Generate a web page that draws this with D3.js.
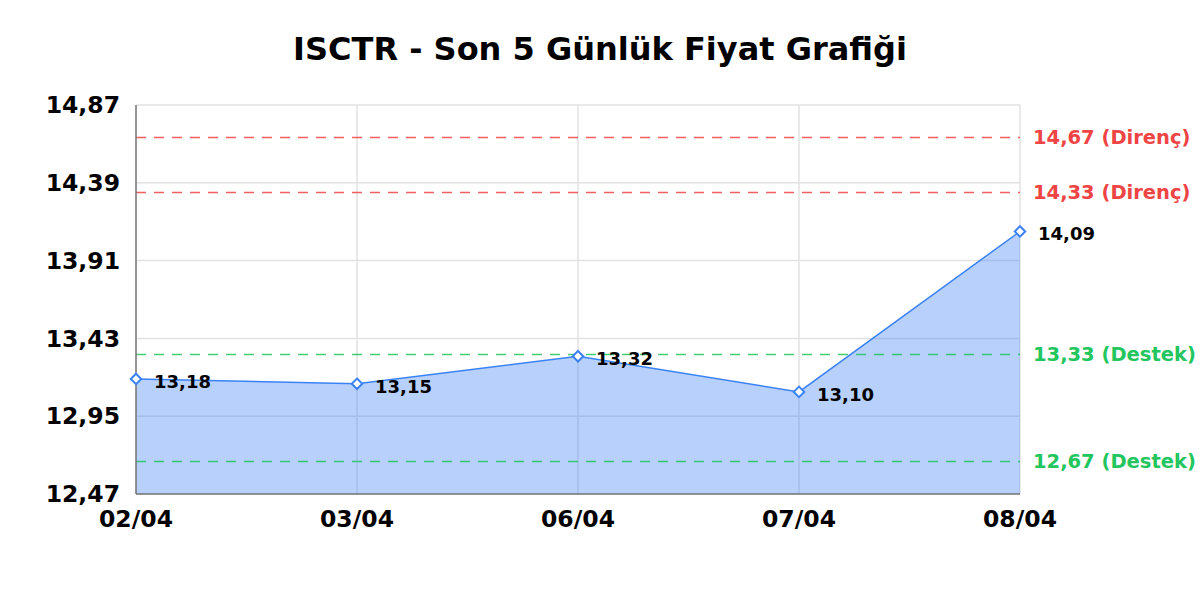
<!DOCTYPE html>
<html>
<head>
<meta charset="utf-8">
<script src="https://cdn.jsdelivr.net/npm/d3@7"></script>
<style>
  html, body { margin: 0; padding: 0; background: #fff; }
  svg { display: block; font-family: "DejaVu Sans", sans-serif; }
</style>
</head>
<body>
<svg id="chart"></svg>
<script>
// chart data
const dates = ["02/04", "03/04", "06/04", "07/04", "08/04"];
const prices = [13.18, 13.15, 13.32, 13.10, 14.09];
const yTicks = [12.47, 12.95, 13.43, 13.91, 14.39, 14.87];
const resistance = [14.67, 14.33];
const support = [13.33, 12.67];

const width = 1200, height = 600;
const margin = { top: 105, right: 180, bottom: 106, left: 136 };
const fmt = v => v.toFixed(2).replace(".", ",");

const svg = d3.select("#chart").attr("width", width).attr("height", height);

const x = d3.scalePoint().domain(dates).range([margin.left, width - margin.right]);
const y = d3.scaleLinear().domain([12.47, 14.87]).range([height - margin.bottom, margin.top]);

// title
svg.append("text")
    .attr("x", 600).attr("y", 60)
    .attr("text-anchor", "middle")
    .attr("font-size", 32).attr("font-weight", "bold")
    .text("ISCTR - Son 5 Günlük Fiyat Grafiği");

// grid
svg.append("g").selectAll("line").data(yTicks).enter().append("line")
    .attr("x1", margin.left).attr("x2", width - margin.right)
    .attr("y1", d => y(d)).attr("y2", d => y(d))
    .attr("stroke", "#e2e2e2").attr("stroke-width", 1.5);
svg.append("g").selectAll("line").data(dates).enter().append("line")
    .attr("x1", d => x(d)).attr("x2", d => x(d))
    .attr("y1", margin.top).attr("y2", height - margin.bottom)
    .attr("stroke", "#e2e2e2").attr("stroke-width", 1.5);

// area + line
const pts = dates.map((d, i) => ({ date: d, value: prices[i] }));
const area = d3.area().x(d => x(d.date)).y0(y(12.47)).y1(d => y(d.value));
const line = d3.line().x(d => x(d.date)).y(d => y(d.value));

svg.append("path").datum(pts).attr("d", area)
    .attr("fill", "rgba(59,130,246,0.37)");
svg.append("path").datum(pts).attr("d", line)
    .attr("fill", "none").attr("stroke", "#3b82f6").attr("stroke-width", 1.5);

// support / resistance lines
const levels = resistance.map(v => ({ v, color: "#ef4444", name: "Direnç" }))
    .concat(support.map(v => ({ v, color: "#22c55e", name: "Destek" })));
const lv = svg.append("g").selectAll("g").data(levels).enter().append("g");
lv.append("line")
    .attr("x1", margin.left).attr("x2", width - margin.right)
    .attr("y1", d => y(d.v)).attr("y2", d => y(d.v))
    .attr("stroke", d => d.color).attr("stroke-width", 1.5)
    .attr("stroke-dasharray", "10,8").attr("opacity", 0.85);
lv.append("text")
    .attr("x", width - margin.right + 13).attr("y", d => y(d.v))
    .attr("dy", "0.35em")
    .attr("font-size", 19.5).attr("font-weight", "bold")
    .attr("fill", d => d.color)
    .text(d => fmt(d.v) + " (" + d.name + ")");

// axes lines
svg.append("line")
    .attr("x1", margin.left).attr("x2", margin.left)
    .attr("y1", margin.top).attr("y2", height - margin.bottom)
    .attr("stroke", "#777").attr("stroke-width", 1.5);
svg.append("line")
    .attr("x1", margin.left).attr("x2", width - margin.right)
    .attr("y1", height - margin.bottom).attr("y2", height - margin.bottom)
    .attr("stroke", "#777").attr("stroke-width", 1.5);

// tick labels
svg.append("g").selectAll("text").data(yTicks).enter().append("text")
    .attr("x", margin.left - 16).attr("y", d => y(d))
    .attr("dy", "0.35em").attr("text-anchor", "end")
    .attr("font-size", 23.5).attr("font-weight", "bold")
    .text(d => fmt(d));
svg.append("g").selectAll("text").data(dates).enter().append("text")
    .attr("x", d => x(d)).attr("y", height - margin.bottom + 33)
    .attr("text-anchor", "middle")
    .attr("font-size", 23.5).attr("font-weight", "bold")
    .text(d => d);

// markers + labels
const diamond = d3.symbol().type(d3.symbolDiamond2).size(70);
svg.append("g").selectAll("path").data(pts).enter().append("path")
    .attr("d", diamond)
    .attr("transform", d => `translate(${x(d.date)},${y(d.value)})`)
    .attr("fill", "#fff").attr("stroke", "#3b82f6").attr("stroke-width", 2);
svg.append("g").selectAll("text").data(pts).enter().append("text")
    .attr("x", d => x(d.date) + 18).attr("y", d => y(d.value) + 9)
    .attr("font-size", 18).attr("font-weight", "bold")
    .text(d => fmt(d.value));
</script>
</body>
</html>
